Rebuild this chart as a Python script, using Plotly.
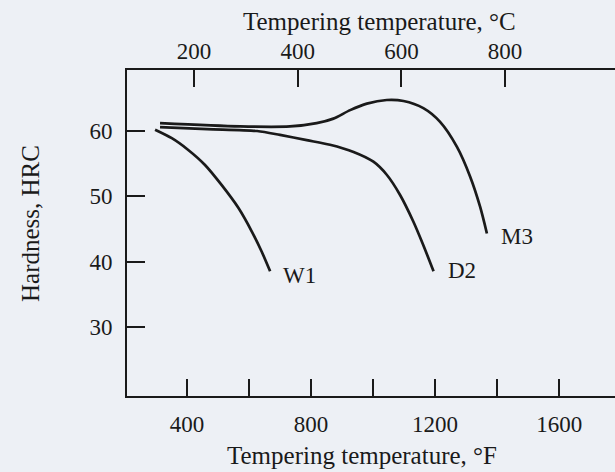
import plotly.graph_objects as go

# Data (x in °F, y in HRC)
w1_temp_f = [297, 351, 404, 458, 512, 566, 609, 641, 668]
w1_hrc = [60.2, 58.9, 57.1, 54.8, 51.7, 48.2, 44.6, 41.5, 38.5]

d2_temp_f = [313, 465, 626, 700, 786, 861, 937, 1001, 1044, 1087, 1130, 1162, 1195]
d2_hrc = [60.6, 60.3, 60.0, 59.4, 58.6, 57.9, 56.8, 55.3, 53.3, 50.2, 46.1, 42.5, 38.5]

m3_temp_f = [313, 571, 732, 818, 872, 926, 980, 1044, 1098, 1162, 1216, 1270, 1313, 1345, 1367]
m3_hrc = [61.2, 60.7, 60.7, 61.2, 61.9, 63.2, 64.2, 64.75, 64.6, 63.5, 61.4, 57.6, 53.0, 48.4, 44.3]

f_ticks = [400, 600, 800, 1000, 1200, 1400, 1600]
f_ticklabels = ["400", "", "800", "", "1200", "", "1600"]
c_ticks = [200, 400, 600, 800]
hrc_ticks = [30, 40, 50, 60]

labels = [("W1", 764, 37.9), ("D2", 1287, 38.6), ("M3", 1465, 43.9)]

FONT = "Liberation Serif, Times New Roman, serif"
INK = "#1a1a1a"
BG = "#edf0f5"

fig = go.Figure()
for xs, ys in [(w1_temp_f, w1_hrc), (d2_temp_f, d2_hrc), (m3_temp_f, m3_hrc)]:
    fig.add_trace(go.Scatter(x=xs, y=ys, mode="lines",
                             line=dict(color=INK, width=2.7, shape="spline", smoothing=0.8),
                             showlegend=False, hoverinfo="skip"))

# invisible trace to activate the top (°C) axis
fig.add_trace(go.Scatter(x=[None], y=[None], xaxis="x2", showlegend=False))

for name, xv, yv in labels:
    fig.add_annotation(x=xv, y=yv, text=name, showarrow=False,
                       font=dict(family=FONT, size=23, color=INK))

title_font = dict(family=FONT, size=25, color=INK)
fig.add_annotation(xref="paper", yref="paper", x=(362 - 127) / 488, y=1 + (70 - 455) / 326,
                   xanchor="center", yanchor="middle",
                   text="Tempering temperature, °F", showarrow=False, font=title_font)
fig.add_annotation(xref="paper", yref="paper", x=(379 - 127) / 488, y=1 + (70 - 22) / 326,
                   xanchor="center", yanchor="middle",
                   text="Tempering temperature, °C", showarrow=False, font=title_font)
fig.add_annotation(xref="paper", yref="paper", x=(30 - 127) / 488, y=(396 - 224) / 326,
                   xanchor="center", yanchor="middle",
                   text="Hardness, HRC", showarrow=False, textangle=-90, font=title_font)

fig.update_layout(
    width=615, height=472,
    margin=dict(l=127, r=0, t=70, b=76),
    paper_bgcolor=BG, plot_bgcolor=BG,
    font=dict(family=FONT, size=23, color=INK),
    xaxis=dict(range=[206.5, 1780], tickvals=f_ticks, ticktext=f_ticklabels,
               ticks="inside", ticklen=17, tickwidth=1.6, tickcolor=INK,
               showline=True, linecolor=INK, linewidth=1.8, showgrid=False,
               zeroline=False, ticklabelstandoff=6),
    xaxis2=dict(range=[70.7, 1012], tickvals=c_ticks, overlaying="x", side="top",
                ticks="inside", ticklen=17, tickwidth=1.6, tickcolor=INK,
                showline=True, linecolor=INK, linewidth=1.8, showgrid=False,
                zeroline=False, ticklabelstandoff=0),
    yaxis=dict(range=[19.4, 69.35], tickvals=hrc_ticks,
               ticks="inside", ticklen=18, tickwidth=1.6, tickcolor=INK,
               showline=True, linecolor=INK, linewidth=1.8, showgrid=False,
               zeroline=False, ticklabelstandoff=8),
)

fig.write_html(
    "out.html",
    config={"displayModeBar": False},
    post_script="document.body.style.margin='0';document.body.style.background='#edf0f5';",
)
